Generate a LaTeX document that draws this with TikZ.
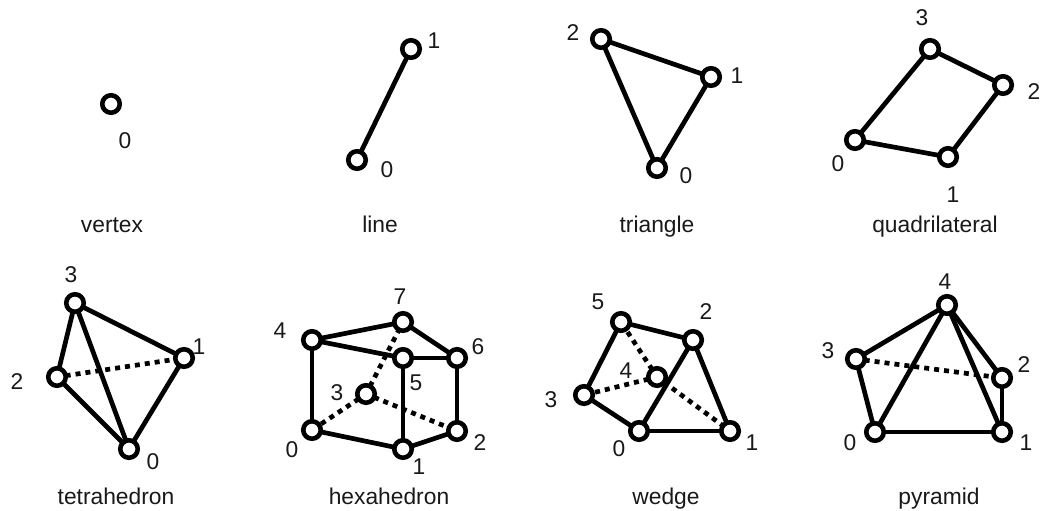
\documentclass[tikz,border=0pt]{standalone}
\usepackage{fontspec}
\setmainfont{Liberation Sans}
\tikzset{
  vtx/.style={circle,draw=black,fill=white,line width=4.6pt,minimum size=17.5pt,inner sep=0pt,outer sep=0pt},
  edgeline/.style={line width=4.7pt,draw=black},
  hidden/.style={line width=4.7pt,draw=black,dash pattern=on 5pt off 5pt},
  lab/.style={font=\fontsize{22.8}{25}\selectfont,inner sep=0pt,text=black!90},
  captext/.style={font=\fontsize{22.8}{25}\selectfont,inner sep=0pt,text=black!90,anchor=base}
}
\begin{document}
\begin{tikzpicture}[x=1pt,y=-1pt]
\useasboundingbox (0,0) rectangle (1041,511);
% vertex
\node[vtx] (a0) at (111,104) {};
\node[lab] (la0) at (125,141) {0};
\node[captext] (ca) at (112,232) {vertex};
% line
\node[vtx] (b0) at (357,160) {};
\node[vtx] (b1) at (411,49) {};
\draw[edgeline] (b0) -- (b1);
\node[lab] (lb0) at (387,170) {0};
\node[lab] (lb1) at (434,41) {1};
\node[captext] (cb) at (380,232) {line};
% triangle
\node[vtx] (c0) at (657,168) {};
\node[vtx] (c1) at (711,77) {};
\node[vtx] (c2) at (601,39) {};
\draw[edgeline] (c0) -- (c1);
\draw[edgeline] (c1) -- (c2);
\draw[edgeline] (c2) -- (c0);
\node[lab] (lc0) at (686,176) {0};
\node[lab] (lc1) at (737,76) {1};
\node[lab] (lc2) at (573,33) {2};
\node[captext] (cc) at (657,232) {triangle};
% quadrilateral
\node[vtx] (d0) at (855,140) {};
\node[vtx] (d1) at (948,157) {};
\node[vtx] (d2) at (1003,85) {};
\node[vtx] (d3) at (930,49) {};
\draw[edgeline] (d0) -- (d1);
\draw[edgeline] (d1) -- (d2);
\draw[edgeline] (d2) -- (d3);
\draw[edgeline] (d3) -- (d0);
\node[lab] (ld0) at (838,164) {0};
\node[lab] (ld1) at (953,195) {1};
\node[lab] (ld2) at (1034,92) {2};
\node[lab] (ld3) at (922,18) {3};
\node[captext] (cd) at (935,232) {quadrilateral};
% tetrahedron
\node[vtx] (e0) at (129,449) {};
\node[vtx] (e1) at (184,358) {};
\node[vtx] (e2) at (57,377) {};
\node[vtx] (e3) at (75,303) {};
\draw[edgeline] (e0) -- (e1);
\draw[edgeline] (e0) -- (e2);
\draw[edgeline] (e0) -- (e3);
\draw[edgeline] (e1) -- (e3);
\draw[edgeline] (e2) -- (e3);
\draw[hidden] (e2) -- (e1);
\node[lab] (le0) at (153,462) {0};
\node[lab] (le1) at (199,347) {1};
\node[lab] (le2) at (17,382) {2};
\node[lab] (le3) at (71,275) {3};
\node[captext] (ce) at (116,504) {tetrahedron};
% hexahedron
\node[vtx] (f0) at (312,430) {};
\node[vtx] (f1) at (403,449) {};
\node[vtx] (f2) at (457,431) {};
\node[vtx] (f3) at (366,394) {};
\node[vtx] (f4) at (312,340) {};
\node[vtx] (f5) at (403,358) {};
\node[vtx] (f6) at (457,358) {};
\node[vtx] (f7) at (403,322) {};
\draw[edgeline] (f0) -- (f1);
\draw[edgeline] (f1) -- (f2);
\draw[edgeline] (f0) -- (f4);
\draw[edgeline] (f1) -- (f5);
\draw[edgeline] (f2) -- (f6);
\draw[edgeline] (f4) -- (f5);
\draw[edgeline] (f5) -- (f6);
\draw[edgeline] (f4) -- (f7);
\draw[edgeline] (f7) -- (f6);
\draw[hidden] (f3) -- (f0);
\draw[hidden] (f3) -- (f2);
\draw[hidden] (f3) -- (f7);
\node[lab] (lf0) at (292,450) {0};
\node[lab] (lf1) at (419,467) {1};
\node[lab] (lf2) at (480,443) {2};
\node[lab] (lf3) at (337,393) {3};
\node[lab] (lf4) at (280,331) {4};
\node[lab] (lf5) at (416,383) {5};
\node[lab] (lf6) at (478,347) {6};
\node[lab] (lf7) at (400,297) {7};
\node[captext] (cf) at (389,504) {hexahedron};
% wedge
\node[vtx] (g0) at (639,431) {};
\node[vtx] (g1) at (730,431) {};
\node[vtx] (g2) at (693,340) {};
\node[vtx] (g3) at (584,395) {};
\node[vtx] (g4) at (657,377) {};
\node[vtx] (g5) at (621,322) {};
\draw[edgeline] (g0) -- (g1);
\draw[edgeline] (g1) -- (g2);
\draw[edgeline] (g0) -- (g2);
\draw[edgeline] (g0) -- (g3);
\draw[edgeline] (g3) -- (g5);
\draw[edgeline] (g5) -- (g2);
\draw[hidden] (g4) -- (g3);
\draw[hidden] (g4) -- (g5);
\draw[hidden] (g4) -- (g1);
\node[lab] (lg0) at (619,449) {0};
\node[lab] (lg1) at (752,443) {1};
\node[lab] (lg2) at (706,312) {2};
\node[lab] (lg3) at (551,400) {3};
\node[lab] (lg4) at (626,371) {4};
\node[lab] (lg5) at (598,302) {5};
\node[captext] (cg) at (666,504) {wedge};
% pyramid
\node[vtx] (h0) at (875,432) {};
\node[vtx] (h1) at (1002,432) {};
\node[vtx] (h2) at (1002,378) {};
\node[vtx] (h3) at (856,359) {};
\node[vtx] (h4) at (947,305) {};
\draw[edgeline] (h0) -- (h1);
\draw[edgeline] (h1) -- (h2);
\draw[edgeline] (h0) -- (h3);
\draw[edgeline] (h3) -- (h4);
\draw[edgeline] (h0) -- (h4);
\draw[edgeline] (h1) -- (h4);
\draw[edgeline] (h2) -- (h4);
\draw[hidden] (h3) -- (h2);
\node[lab] (lh0) at (850,443) {0};
\node[lab] (lh1) at (1026,443) {1};
\node[lab] (lh2) at (1024,365) {2};
\node[lab] (lh3) at (828,351) {3};
\node[lab] (lh4) at (945,282) {4};
\node[captext] (ch) at (939,504) {pyramid};
\end{tikzpicture}
\end{document}
